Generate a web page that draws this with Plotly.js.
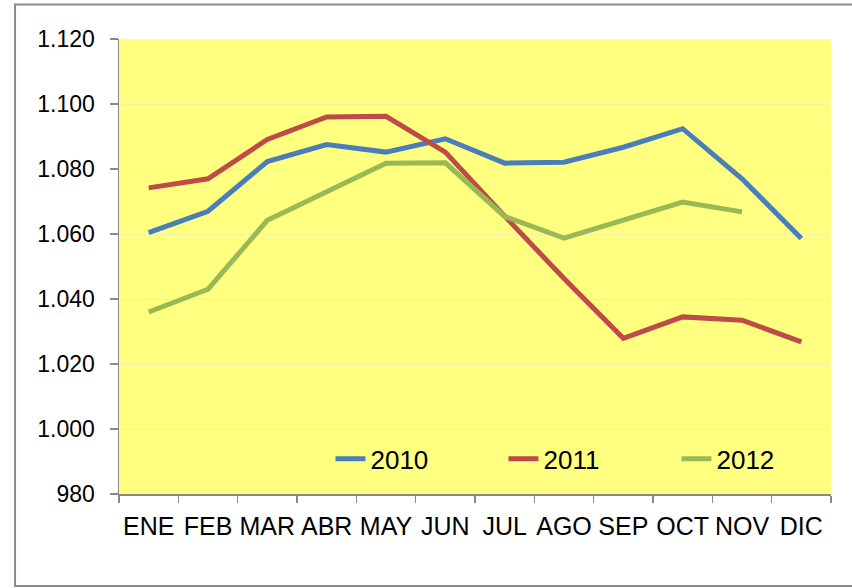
<!DOCTYPE html>
<html>
<head>
<meta charset="utf-8">
<script src="https://cdn.plot.ly/plotly-3.0.1.min.js"></script>
<style>html,body{margin:0;padding:0;background:#fff;}#chart{width:852px;height:588px;}</style>
</head>
<body>
<div id="chart"></div>
<script>
var months = ["ENE","FEB","MAR","ABR","MAY","JUN","JUL","AGO","SEP","OCT","NOV","DIC"];
var names = ["2010","2011","2012"];
var v2010 = [1060.4, 1067.0, 1082.3, 1087.5, 1085.2, 1089.3, 1081.8, 1082.1, 1086.7, 1092.4, 1077.0, 1058.6];
var v2011 = [1074.2, 1077.0, 1089.1, 1096.0, 1096.2, 1085.2, 1065.5, 1046.3, 1027.9, 1034.5, 1033.5, 1026.8];
var v2012 = [1036.0, 1043.0, 1064.2, 1073.0, 1081.8, 1081.9, 1065.4, 1058.7, 1064.2, 1069.8, 1066.8, null];
var colors = ["#4A7EBB", "#BE4B48", "#98B954"];
var yTicks = [980, 1000, 1020, 1040, 1060, 1080, 1100, 1120];

var series = [v2010, v2011, v2012];
var data = series.map(function (vals, i) {
  return {
    x: months, y: vals, name: names[i], type: "scatter", mode: "lines",
    line: {color: colors[i], width: 5}, connectgaps: false
  };
});

var layout = {
  width: 852, height: 588,
  margin: {l: 119, r: 21, t: 38.5, b: 94, pad: 0, autoexpand: false},
  paper_bgcolor: "#ffffff",
  plot_bgcolor: "#FFFF80",
  separators: ",.",
  font: {family: "Liberation Sans, Arial, sans-serif", color: "#000"},
  showlegend: true,
  legend: {
    orientation: "h", x: 0.297, y: 0.077, xanchor: "left", yanchor: "middle",
    bgcolor: "rgba(0,0,0,0)", font: {size: 26, color: "#000"},
    entrywidth: 128, entrywidthmode: "pixels", itemwidth: 30
  },
  xaxis: {
    type: "category", range: [-0.5, 11.5], tickson: "boundaries",
    showline: true, linecolor: "#898989", linewidth: 1.5,
    ticks: "outside", ticklen: 7, tickcolor: "#898989", tickwidth: 1.5,
    showgrid: false, zeroline: false, tickangle: 0, automargin: false,
    tickfont: {size: 25, color: "#000"}, ticklabelstandoff: 9
  },
  yaxis: {
    range: [980, 1120], tickmode: "array", tickvals: yTicks, tickformat: ",d",
    showline: true, linecolor: "#898989", linewidth: 1.5, automargin: false,
    ticks: "outside", ticklen: 8, tickcolor: "#898989", tickwidth: 1.5,
    showgrid: true, gridcolor: "#F2F2A6", gridwidth: 1, zeroline: false,
    tickfont: {size: 23, color: "#000"}, ticklabelstandoff: 10
  },
  shapes: [{
    type: "rect", xref: "paper", yref: "paper",
    x0: -0.146, x1: 1.1, y0: -0.202, y1: 1.076,
    line: {color: "#8C8C8C", width: 2}, fillcolor: "rgba(0,0,0,0)", layer: "below"
  }]
};

Plotly.newPlot("chart", data, layout, {displayModeBar: false, staticPlot: true});
</script>
</body>
</html>
